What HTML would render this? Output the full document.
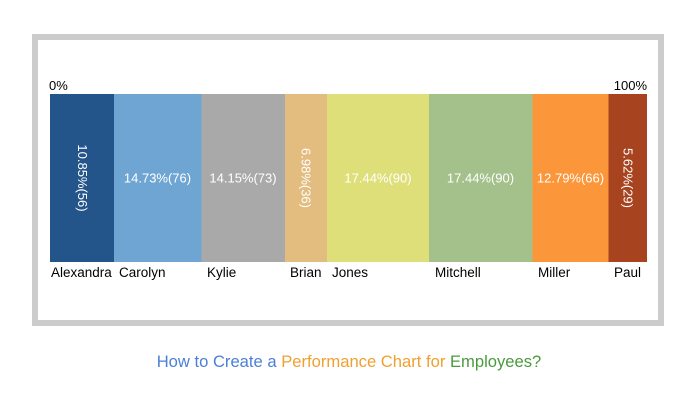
<!DOCTYPE html>
<html><head><meta charset="utf-8"><style>
html,body{margin:0;padding:0;background:#fff;}
body{width:698px;height:400px;overflow:hidden;font-family:"Liberation Sans",Arial,sans-serif;}
</style></head><body>
<svg width="698" height="400" viewBox="0 0 698 400" xmlns="http://www.w3.org/2000/svg" font-family="Liberation Sans, Arial, sans-serif">
<rect x="35" y="37" width="626" height="286" fill="#fff" stroke="#cccccc" stroke-width="6"/>
<g>
<rect x="50" y="94" width="64" height="168" fill="#24558a"/>
<rect x="114" y="94" width="87.5" height="168" fill="#6fa5d3"/>
<rect x="201.5" y="94" width="83.5" height="168" fill="#a9a9a9"/>
<rect x="285" y="94" width="42" height="168" fill="#e3bc80"/>
<rect x="327" y="94" width="102" height="168" fill="#dfdf7a"/>
<rect x="429" y="94" width="103.5" height="168" fill="#a4c18c"/>
<rect x="532.5" y="94" width="76" height="168" fill="#fb963a"/>
<rect x="608.5" y="94" width="38.5" height="168" fill="#a8431f"/>
</g>
<g fill="#000" font-size="13">
<text x="49" y="90">0%</text>
<text x="647" y="90" text-anchor="end">100%</text>
</g>
<g fill="#000" font-size="13.5">
<text x="51" y="277">Alexandra</text>
<text x="119" y="277">Carolyn</text>
<text x="207" y="277">Kylie</text>
<text x="290" y="277">Brian</text>
<text x="332" y="277">Jones</text>
<text x="435" y="277">Mitchell</text>
<text x="538" y="277">Miller</text>
<text x="614" y="277">Paul</text>
</g>
<g fill="#fff" font-size="13" text-anchor="middle">
<text transform="translate(78,178) rotate(90)" y="0">10.85%(56)</text>
<text x="157.5" y="182.5">14.73%(76)</text>
<text x="243" y="182.5">14.15%(73)</text>
<text transform="translate(301.5,178) rotate(90)" y="0">6.98%(36)</text>
<text x="378" y="182.5">17.44%(90)</text>
<text x="480.5" y="182.5">17.44%(90)</text>
<text x="570.5" y="182.5">12.79%(66)</text>
<text transform="translate(623.5,178) rotate(90)" y="0">5.62%(29)</text>
</g>
<text x="349" y="367" font-size="16.6" text-anchor="middle"><tspan fill="#4a7fd8">How to Create a </tspan><tspan fill="#f0a030">Performance Chart for </tspan><tspan fill="#4b9a3c">Employees?</tspan></text>
</svg>
</body></html>
